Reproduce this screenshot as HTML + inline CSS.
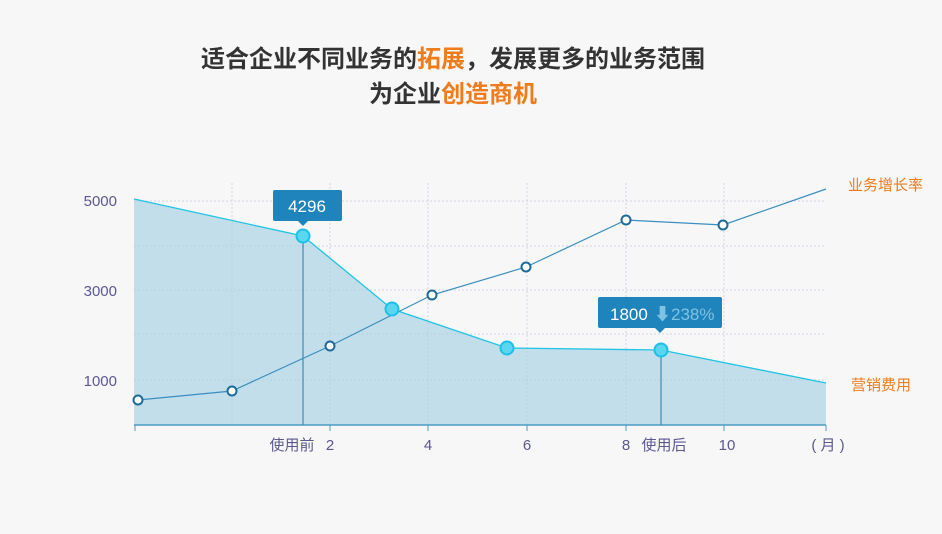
<!DOCTYPE html>
<html><head><meta charset="utf-8"><style>
body{margin:0;background:#f7f7f7;width:942px;height:534px;overflow:hidden;font-family:"Liberation Sans","Noto Sans CJK SC",sans-serif}
.t{position:absolute;left:0;width:906px;text-align:center;font-weight:bold;font-size:24px;color:#333}
.o{color:#f07b1a}
</style></head><body>
<div class="t" style="top:39px">适合企业不同业务的<span class="o">拓展</span>，发展更多的业务范围</div>
<div class="t" style="top:74px">为企业<span class="o">创造商机</span></div>
<svg width="942" height="534" style="position:absolute;left:0;top:0" font-family="Liberation Sans, Noto Sans CJK SC, sans-serif">
<g stroke="#d4d0e4" stroke-dasharray="2,2" stroke-width="1">
<line x1="134" y1="201" x2="826" y2="201"/><line x1="134" y1="246" x2="826" y2="246"/><line x1="134" y1="290" x2="826" y2="290"/><line x1="134" y1="334" x2="826" y2="334"/><line x1="134" y1="380" x2="826" y2="380"/>
<line x1="232" y1="183" x2="232" y2="425"/><line x1="330" y1="183" x2="330" y2="425"/><line x1="428" y1="183" x2="428" y2="425"/><line x1="527" y1="183" x2="527" y2="425"/><line x1="626" y1="183" x2="626" y2="425"/><line x1="724" y1="183" x2="724" y2="425"/>
</g>
<polygon points="134,199 303,236 392,309 507,348 661,350 826,383 826,425 134,425" fill="#a9d3e4" opacity="0.7"/>
<polyline points="134,199 303,236 392,309 507,348 661,350 826,383" fill="none" stroke="#22c3e6" stroke-width="1.3"/>
<line x1="134" y1="425" x2="826" y2="425" stroke="#4a9cc8" stroke-width="1.5"/>
<g stroke="#4a9cc8"><line x1="135" y1="425" x2="135" y2="431"/><line x1="330" y1="425" x2="330" y2="431"/><line x1="428" y1="425" x2="428" y2="431"/><line x1="527" y1="425" x2="527" y2="431"/><line x1="626" y1="425" x2="626" y2="431"/><line x1="724" y1="425" x2="724" y2="431"/><line x1="826" y1="425" x2="826" y2="431"/></g>
<line x1="303" y1="236" x2="303" y2="425" stroke="#3a8ab8" stroke-width="1.2"/>
<line x1="661" y1="350" x2="661" y2="425" stroke="#3a8ab8" stroke-width="1.2"/>
<polyline points="138,400 232,391 330,346 432,295 526,267 626,220 723,225 826,189" fill="none" stroke="#3a8ec0" stroke-width="1.2"/>
<g fill="#fff" stroke="#1e6a9a" stroke-width="2">
<circle cx="138" cy="400" r="4.5"/><circle cx="232" cy="391" r="4.5"/><circle cx="330" cy="346" r="4.5"/><circle cx="432" cy="295" r="4.5"/><circle cx="526" cy="267" r="4.5"/><circle cx="626" cy="220" r="4.5"/><circle cx="723" cy="225" r="4.5"/></g>
<g fill="#5ad6f0" stroke="#1cc1e8" stroke-width="2">
<circle cx="303" cy="236" r="6.5"/><circle cx="392" cy="309" r="6.5"/><circle cx="507" cy="348" r="6.5"/><circle cx="661" cy="350" r="6.5"/></g>
<rect x="273" y="190" width="69" height="31" rx="2" fill="#1f84bb"/>
<polygon points="298,221 308,221 303,226" fill="#1f84bb"/>
<text x="307" y="212" fill="#fff" font-size="17" text-anchor="middle">4296</text>
<rect x="598" y="297" width="124" height="31" rx="2" fill="#1f84bb"/>
<polygon points="655,328 665,328 660,333" fill="#1f84bb"/>
<text x="610" y="320" fill="#fff" font-size="17">1800</text>
<text x="654" y="320" fill="#7fc2e4" font-size="17">⬇238%</text>
<g fill="#5b5890" font-size="15">
<text x="117" y="206" text-anchor="end">5000</text><text x="117" y="296" text-anchor="end">3000</text><text x="117" y="386" text-anchor="end">1000</text>
<text x="292" y="450" text-anchor="middle">使用前</text><text x="330" y="450" text-anchor="middle">2</text><text x="428" y="450" text-anchor="middle">4</text><text x="527" y="450" text-anchor="middle">6</text><text x="626" y="450" text-anchor="middle">8</text><text x="664" y="450" text-anchor="middle">使用后</text><text x="727" y="450" text-anchor="middle">10</text><text x="828" y="450" text-anchor="middle">( 月 )</text>
</g>
<text x="848" y="190" fill="#f07b1a" font-size="15">业务增长率</text>
<text x="851" y="390" fill="#f07b1a" font-size="15">营销费用</text>
</svg>
</body></html>
